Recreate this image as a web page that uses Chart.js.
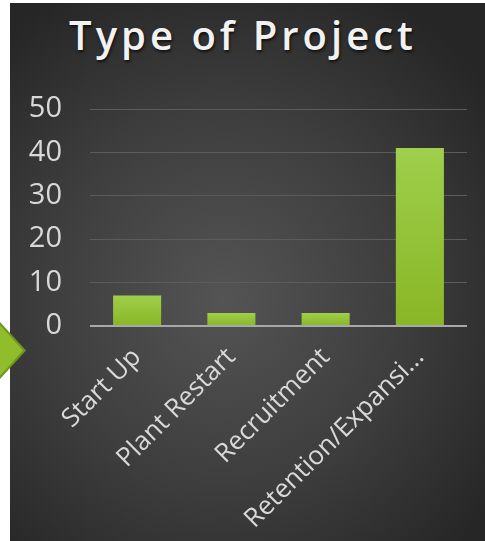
<!DOCTYPE html>
<html lang="en">
  <head>
    <meta charset="UTF-8" />
    <title>Type of Project</title>
    <script src="https://cdn.jsdelivr.net/npm/chart.js"></script>
    <style>
      html, body { margin: 0; padding: 0; background: #fff; }
      body { width: 485px; height: 541px; position: relative; overflow: hidden; }
      .panel {
        position: absolute; left: 10px; top: 3px; width: 475px; height: 538px;
        background: radial-gradient(ellipse 70% 65% at 45% 55%, #545454 0%, #3d3d3d 55%, #262626 100%);
      }
      .panel h1 {
        position: absolute; left: 0; right: 9px; top: 12px; margin: 0;
        text-align: center; color: #f2f2f2;
        font: 600 40px/40px "Open Sans", sans-serif; letter-spacing: 4px;
        text-shadow: 1px 2px 3px rgba(0,0,0,0.7);
      }
      .panel canvas { position: absolute; left: 0; top: 0; }
      .arrow, .arrow-in { position: absolute; clip-path: polygon(0 0, 100% 50%, 0 100%); }
      .arrow { left: 0; top: 322px; width: 26px; height: 57px; background: #6e9520; }
      .arrow-in { left: 0; top: 325px; width: 23px; height: 51px; background: #8fbd2c; }
    </style>
  </head>
  <body>
    <div class="panel">
      <h1>Type of Project</h1>
      <canvas id="projectChart" width="475" height="538"></canvas>
    </div>
    <div class="arrow"></div>
    <div class="arrow-in"></div>

    <script>
      const categories = ['Start Up', 'Plant Restart', 'Recruitment', 'Retention/Expansion'];
      const tickLabels = ['Start Up', 'Plant Restart', 'Recruitment', 'Retention/Expansi...'];
      const projects = [7, 3, 3, 41];
      const yTicks = [0, 10, 20, 30, 40, 50];

      // gradient for each bar, lighter at its top
      function barFill(ctx) {
        const chart = ctx.chart;
        if (!chart.chartArea) return '#8fbd2c';
        const y = chart.scales.y;
        const top = y.getPixelForValue(ctx.raw);
        const bottom = y.getPixelForValue(0);
        const g = chart.ctx.createLinearGradient(0, top, 0, bottom);
        g.addColorStop(0, '#9fcf4c');
        g.addColorStop(1, '#88b625');
        return g;
      }

      const ctx = document.getElementById('projectChart').getContext('2d');
      new Chart(ctx, {
        type: 'bar',
        data: {
          labels: categories,
          datasets: [
            {
              label: 'Projects',
              data: projects,
              backgroundColor: barFill,
              borderWidth: 0,
              categoryPercentage: 0.51,
              barPercentage: 1,
            },
          ],
        },
        options: {
          responsive: false,
          animation: false,
          layout: { padding: { top: 106, right: 18, left: 0, bottom: 0 } },
          plugins: {
            legend: { display: false },
            tooltip: { enabled: false },
          },
          scales: {
            x: {
              grid: { display: false },
              border: { display: false },
              ticks: {
                color: '#d9d9d9',
                font: { family: 'Open Sans', size: 26 },
                minRotation: 45,
                maxRotation: 45,
                autoSkip: false,
                padding: 8,
                callback: (v, i) => tickLabels[i],
              },
              afterFit: (s) => { s.height = 215; },
            },
            y: {
              min: 0,
              max: 50,
              afterBuildTicks: (s) => { s.ticks = yTicks.map((v) => ({ value: v })); },
              grid: {
                drawTicks: false,
                color: (c) => (c.tick.value === 0 ? '#a8a8a8' : '#5c5c5c'),
                lineWidth: (c) => (c.tick.value === 0 ? 2 : 1),
              },
              border: { display: false },
              ticks: {
                color: '#d9d9d9',
                font: { family: 'Open Sans', size: 29 },
                padding: 28,
              },
              afterFit: (s) => { s.width = 80; },
            },
          },
        },
      });
    </script>
  </body>
</html>
